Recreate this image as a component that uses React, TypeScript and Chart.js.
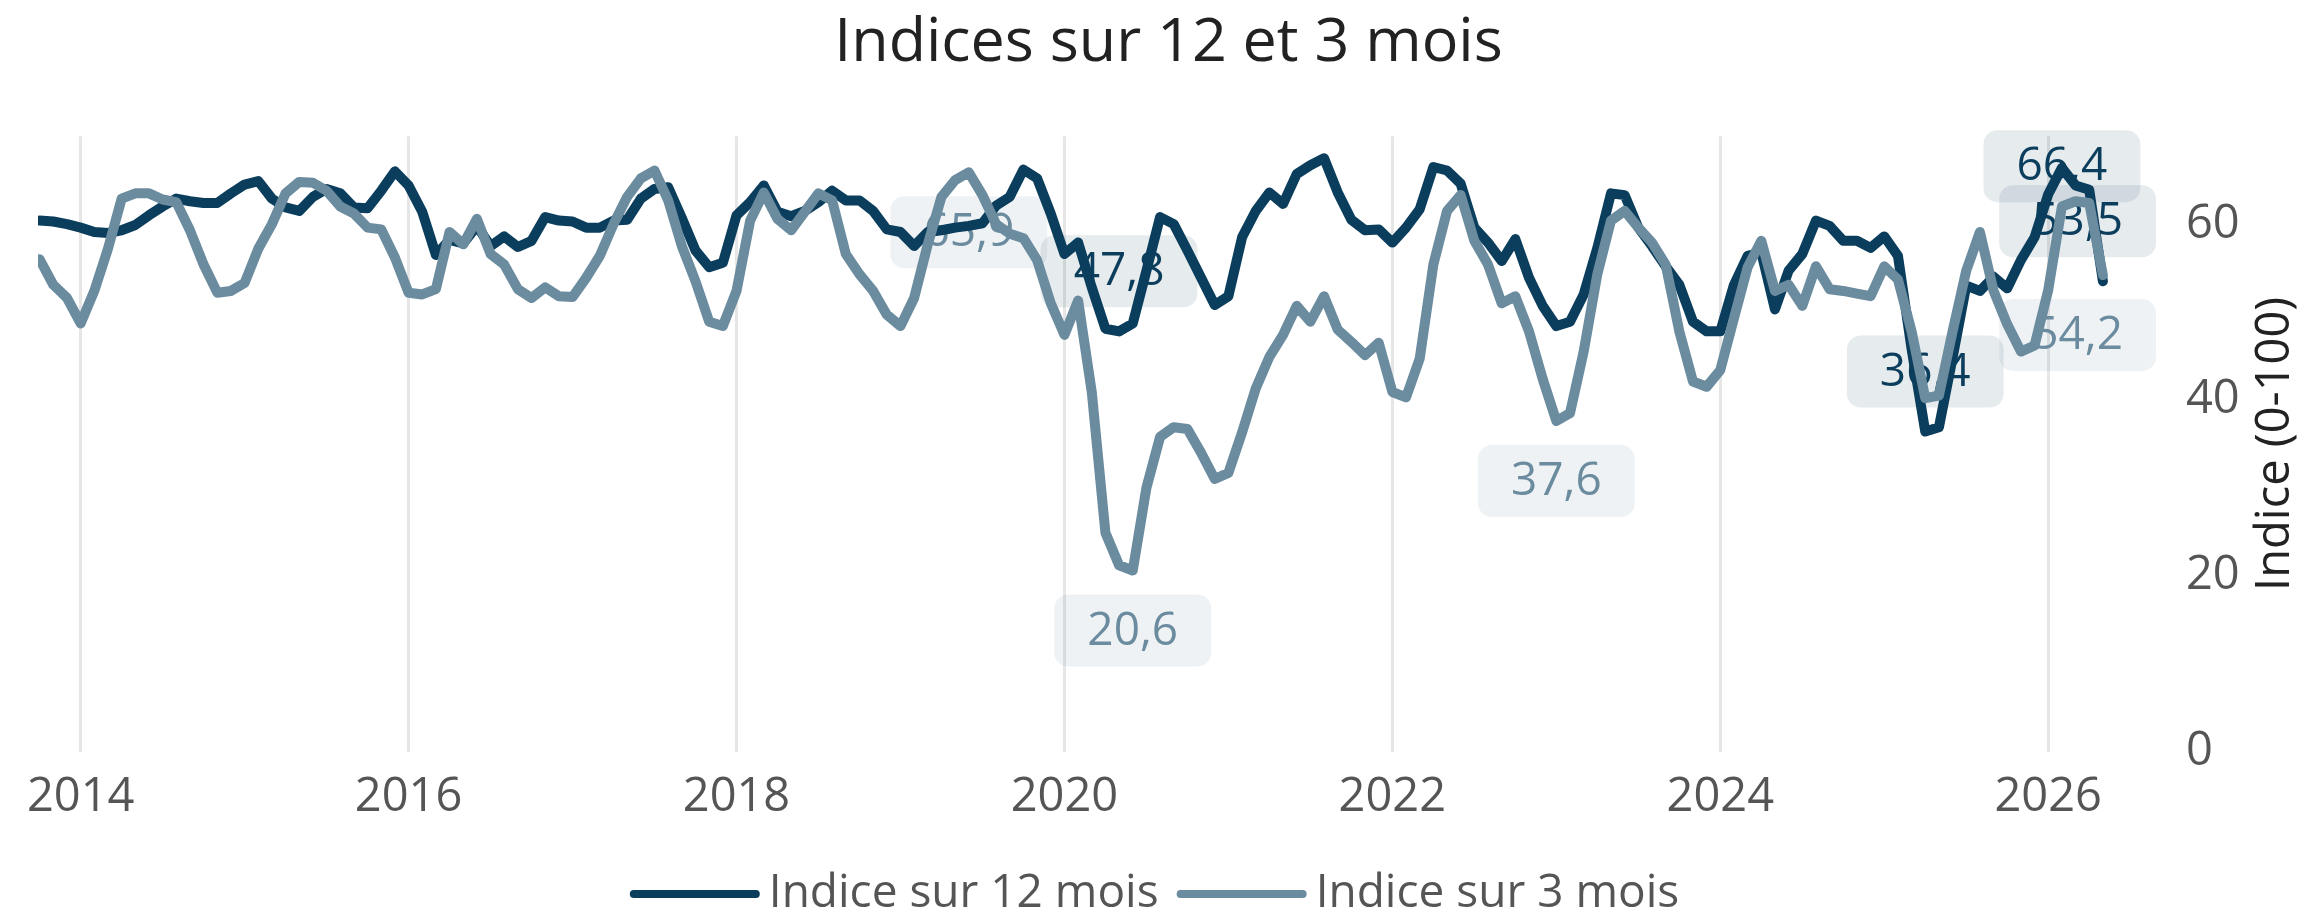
import React, { useEffect, useRef } from 'react';
import { Chart, registerables } from 'chart.js';

Chart.register(...registerables);

// ---------- data ----------
const START_YEAR = 2013;
const START_MONTH = 10; // first observation: October 2013, monthly

const TITLE = 'Indices sur 12 et 3 mois';
const Y_TITLE = 'Indice (0-100)';
const SERIES_12_LABEL = 'Indice sur 12 mois';
const SERIES_3_LABEL = 'Indice sur 3 mois';

const INDEX_12 = [
  60.4, 60.3, 60.0,
  59.6, 59.1, 59.0, 59.3, 59.9, 61.0, 62.0, 62.9, 62.6, 62.4, 62.4, 63.5,
  64.5, 64.9, 62.9, 61.9, 61.5, 63.1, 64.0, 63.5, 61.9, 61.8, 63.8, 66.0,
  64.4, 61.4, 56.5, 58.2, 57.8, 59.8, 57.5, 58.6, 57.4, 58.1, 60.8, 60.4,
  60.3, 59.6, 59.6, 60.4, 60.5, 62.9, 64.0, 64.2, 60.7, 57.0, 55.1, 55.6,
  61.0, 62.5, 64.4, 61.4, 60.9, 61.5, 62.5, 63.8, 62.7, 62.7, 61.5, 59.4,
  59.1, 57.5, 59.1, 59.3, 59.6, 59.8, 60.1, 62.1, 63.1, 66.2, 65.2, 61.2,
  56.6, 57.9, 52.8, 48.1, 47.8, 48.7, 54.7, 60.8, 60.0, 57.0, 53.9, 50.8,
  51.8, 58.5, 61.5, 63.6, 62.3, 65.7, 66.7, 67.5, 63.6, 60.5, 59.3, 59.4,
  57.9, 59.6, 61.7, 66.5, 66.1, 64.6, 59.6, 57.9, 55.8, 58.3, 53.9, 50.7,
  48.4, 48.9, 52.0, 57.3, 63.5, 63.3, 59.6, 57.5, 55.2, 53.1, 48.9, 47.8,
  47.8, 53.1, 56.4, 56.8, 50.3, 54.7, 56.6, 60.4, 59.8, 58.1, 58.1, 57.3,
  58.6, 56.4, 45.8, 36.4, 36.9, 44.8, 53.0, 52.4, 54.0, 52.7, 55.9, 58.5,
  63.4, 66.4, 64.4, 63.9, 53.5,
];

const INDEX_3 = [
  56.0, 53.1, 51.6,
  48.7, 52.4, 57.2, 62.9, 63.5, 63.5, 62.8, 62.5, 59.3, 55.4, 52.2, 52.4,
  53.3, 57.2, 60.0, 63.5, 64.8, 64.7, 63.8, 62.0, 61.2, 59.6, 59.4, 56.2,
  52.2, 52.0, 52.6, 59.1, 57.7, 60.6, 56.6, 55.4, 52.6, 51.6, 52.8, 51.8,
  51.7, 53.9, 56.4, 60.0, 63.1, 65.2, 66.1, 62.7, 57.5, 53.5, 48.9, 48.4,
  52.4, 60.4, 63.6, 60.6, 59.3, 61.4, 63.5, 62.7, 56.6, 54.3, 52.4, 49.7,
  48.4, 51.6, 57.7, 63.1, 65.0, 65.9, 63.3, 60.0, 58.9, 58.4, 55.9, 51.0,
  47.4, 51.3, 40.9, 24.9, 21.2, 20.6, 30.0, 35.8, 36.9, 36.7, 34.0, 31.0,
  31.7, 36.3, 41.3, 44.9, 47.4, 50.7, 48.9, 51.8, 48.0, 46.6, 45.1, 46.5,
  40.9, 40.3, 44.7, 55.4, 61.5, 63.3, 58.1, 55.4, 51.0, 51.8, 47.8, 42.4,
  37.6, 38.5, 45.5, 54.3, 60.4, 61.5, 59.6, 57.9, 55.4, 47.8, 42.1, 41.5,
  43.4, 49.3, 55.1, 58.1, 52.4, 53.1, 50.7, 55.2, 52.6, 52.4, 52.1, 51.8,
  55.2, 53.7, 47.8, 40.2, 40.5, 47.8, 54.7, 59.1, 52.4, 48.6, 45.5, 46.2,
  52.5, 62.0, 62.6, 62.4, 54.2,
];

// months whose value is printed in a label box
const ANNOTATED_12 = ['2020-05', '2025-04', '2026-02', '2026-05'];
const ANNOTATED_3 = ['2019-06', '2020-06', '2023-01', '2026-05'];

const X_TICKS = [2014, 2016, 2018, 2020, 2022, 2024, 2026];
const Y_TICKS = [0, 20, 40, 60];
const X_MIN = 2013.74;
const X_MAX = 2026.706;
const Y_MIN = 0;
const Y_MAX = 70;

// ---------- styles ----------
const C12 = '#0b3d5c';
const C3 = '#6b8b9f';
const BG12 = 'rgba(11,61,92,0.10)';
const BG3 = 'rgba(107,139,159,0.11)';
const FONT = "'Open Sans', sans-serif";
const W = 2299;
const H = 922;

const monthX = (i: number) => START_YEAR + (START_MONTH - 1 + i) / 12;
const monthKey = (i: number) => {
  const m = START_MONTH - 1 + i;
  const y = START_YEAR + Math.floor(m / 12);
  const mm = (m % 12) + 1;
  return `${y}-${mm < 10 ? '0' + mm : mm}`;
};
const fmt = (v: number) => v.toFixed(1).replace('.', ',');

const labelBoxes = {
  id: 'labelBoxes',
  beforeDatasetsDraw(chart: any) {
    const { ctx, chartArea } = chart;
    const groups = [
      { ds: 0, keys: ANNOTATED_12, values: INDEX_12, dir: -1, color: C12, bg: BG12 },
      { ds: 1, keys: ANNOTATED_3, values: INDEX_3, dir: 1, color: C3, bg: BG3 },
    ];
    ctx.save();
    ctx.font = `46px ${FONT}`;
    ctx.textAlign = 'center';
    ctx.textBaseline = 'middle';
    for (const g of groups) {
      const meta = chart.getDatasetMeta(g.ds);
      g.keys.forEach((k) => {
        let idx = -1;
        for (let i = 0; i < g.values.length; i++) if (monthKey(i) === k) idx = i;
        if (idx < 0) return;
        const pt = meta.data[idx];
        const text = fmt(g.values[idx]);
        const w = ctx.measureText(text).width + 66;
        const h = 72;
        let cx = pt.x;
        cx = Math.min(cx, chartArea.right - 8 - w / 2);
        cx = Math.max(cx, chartArea.left + 8 + w / 2);
        let top = pt.y + g.dir * 60 - h / 2;
        if (top < chartArea.top - 6) top = chartArea.top - 6;
        ctx.fillStyle = g.bg;
        ctx.beginPath();
        ctx.roundRect(cx - w / 2, top, w, h, 14);
        ctx.fill();
        ctx.fillStyle = g.color;
        ctx.fillText(text, cx, top + h / 2 + 1);
      });
    }
    ctx.restore();
  },
};

const extras = {
  id: 'extras',
  afterDraw(chart: any) {
    const { ctx, chartArea } = chart;
    ctx.save();
    // right axis title, reading upward
    ctx.font = `47px ${FONT}`;
    ctx.fillStyle = '#222';
    ctx.textAlign = 'center';
    ctx.textBaseline = 'middle';
    ctx.translate(chart.width - 23, (chartArea.top + chartArea.bottom) / 2);
    ctx.rotate(-Math.PI / 2);
    ctx.fillText(Y_TITLE, 0, 0);
    ctx.restore();

    // legend
    ctx.save();
    ctx.font = `46px ${FONT}`;
    ctx.textAlign = 'left';
    ctx.textBaseline = 'middle';
    const items = [
      { text: SERIES_12_LABEL, color: C12 },
      { text: SERIES_3_LABEL, color: C3 },
    ];
    const lineW = 130;
    const gap = 9;
    const itemGap = 18;
    const widths = items.map((it) => lineW + gap + ctx.measureText(it.text).width);
    const total = widths.reduce((a, b) => a + b, 0) + itemGap * (items.length - 1);
    let x = (38 + chart.width) / 2 - 14 - total / 2;
    const y = chart.height - 28;
    items.forEach((it, i) => {
      ctx.fillStyle = it.color;
      ctx.beginPath();
      ctx.roundRect(x, y - 4, lineW, 8, 4);
      ctx.fill();
      ctx.fillStyle = '#555';
      ctx.fillText(it.text, x + lineW + gap, y);
      x += widths[i] + itemGap;
    });
    ctx.restore();
  },
};

export default function App() {
  const ref = useRef<HTMLCanvasElement | null>(null);
  useEffect(() => {
    if (!ref.current) return;
    const chart = new Chart(ref.current, {
      type: 'line',
      data: {
        datasets: [
          {
            label: SERIES_12_LABEL,
            data: INDEX_12.map((v, i) => ({ x: monthX(i), y: v })),
            borderColor: C12,
            backgroundColor: C12,
            borderWidth: 10,
            pointRadius: 0,
            tension: 0,
            borderCapStyle: 'round',
            borderJoinStyle: 'round',
            clip: 0,
            order: 1,
          },
          {
            label: SERIES_3_LABEL,
            data: INDEX_3.map((v, i) => ({ x: monthX(i), y: v })),
            borderColor: C3,
            backgroundColor: C3,
            borderWidth: 10,
            pointRadius: 0,
            tension: 0,
            borderCapStyle: 'round',
            borderJoinStyle: 'round',
            clip: 0,
            order: 0,
          },
        ],
      },
      options: {
        animation: false,
        responsive: false,
        maintainAspectRatio: false,
        devicePixelRatio: 1,
        layout: { padding: { left: 38, right: 0, top: 0, bottom: 78 } },
        plugins: {
          legend: { display: false },
          tooltip: { enabled: false },
          title: {
            display: true,
            text: TITLE,
            color: '#222',
            font: { family: FONT, size: 61, weight: 'normal' },
            padding: { top: 7, bottom: 56 },
          },
        },
        scales: {
          x: {
            type: 'linear',
            min: X_MIN,
            max: X_MAX,
            afterBuildTicks: (axis: any) => {
              axis.ticks = X_TICKS.map((v) => ({ value: v }));
            },
            grid: { color: '#e6e6e6', lineWidth: 3, drawTicks: false },
            border: { display: false },
            ticks: {
              padding: 18,
              color: '#555',
              font: { family: FONT, size: 47 },
              maxRotation: 0,
              autoSkip: false,
              callback: (v: any) => String(v),
            },
          },
          y: {
            type: 'linear',
            position: 'right',
            min: Y_MIN,
            max: Y_MAX,
            afterBuildTicks: (axis: any) => {
              axis.ticks = Y_TICKS.map((v) => ({ value: v }));
            },
            afterFit: (scale: any) => {
              scale.width = 135;
            },
            grid: { display: false },
            border: { display: false },
            ticks: {
              padding: 14,
              color: '#555',
              font: { family: FONT, size: 47 },
              callback: (v: any) => String(v),
            },
          },
        },
      },
      plugins: [labelBoxes, extras],
    } as any);
    return () => chart.destroy();
  }, []);

  return (
    <div style={{ position: 'absolute', left: 0, top: 0, width: W, height: H, background: '#fff' }}>
      <canvas ref={ref} width={W} height={H} style={{ display: 'block', width: W, height: H }} />
    </div>
  );
}
